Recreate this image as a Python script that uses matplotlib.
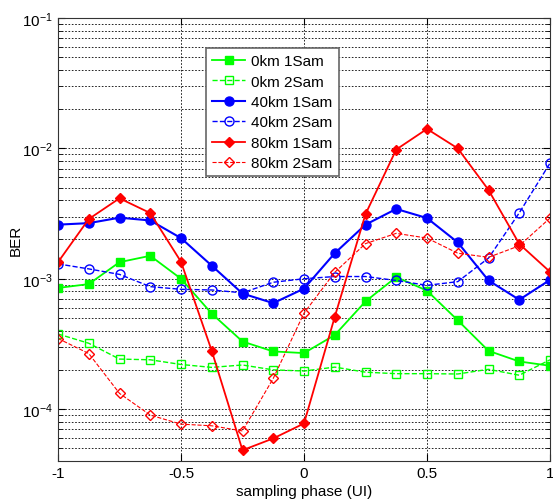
import numpy as np
import matplotlib
matplotlib.use("Agg")
import matplotlib.pyplot as plt
from matplotlib.ticker import LogLocator, NullFormatter

plt.rcParams['font.family'] = ['Liberation Sans', 'DejaVu Sans']

phase = [-1, -0.875, -0.75, -0.625, -0.5, -0.375, -0.25, -0.125, 0,
         0.125, 0.25, 0.375, 0.5, 0.625, 0.75, 0.875, 1]

ber_0km_1 = [8.5e-4, 9.1e-4, 1.34e-3, 1.5e-3, 1.0e-3, 5.4e-4, 3.3e-4, 2.77e-4, 2.69e-4,
             3.7e-4, 6.7e-4, 1.03e-3, 8.1e-4, 4.8e-4, 2.8e-4, 2.32e-4, 2.15e-4]
ber_0km_2 = [3.77e-4, 3.2e-4, 2.42e-4, 2.39e-4, 2.2e-4, 2.09e-4, 2.18e-4, 2.0e-4, 1.96e-4,
             2.1e-4, 1.92e-4, 1.87e-4, 1.87e-4, 1.86e-4, 2.02e-4, 1.82e-4, 2.39e-4]
ber_40km_1 = [2.6e-3, 2.67e-3, 2.94e-3, 2.8e-3, 2.05e-3, 1.26e-3, 7.7e-4, 6.5e-4, 8.4e-4,
              1.57e-3, 2.6e-3, 3.43e-3, 2.92e-3, 1.9e-3, 9.7e-4, 6.9e-4, 9.8e-4]
ber_40km_2 = [1.3e-3, 1.19e-3, 1.08e-3, 8.7e-4, 8.3e-4, 8.2e-4, 7.8e-4, 9.4e-4, 1.0e-3,
              1.04e-3, 1.04e-3, 9.7e-4, 8.9e-4, 9.5e-4, 1.44e-3, 3.2e-3, 7.7e-3]
ber_80km_1 = [1.34e-3, 2.87e-3, 4.14e-3, 3.19e-3, 1.35e-3, 2.8e-4, 4.84e-5, 5.96e-5, 7.76e-5,
              5.1e-4, 3.13e-3, 9.8e-3, 1.41e-2, 1.0e-2, 4.8e-3, 1.85e-3, 1.13e-3]
ber_80km_2 = [3.48e-4, 2.67e-4, 1.32e-4, 9.0e-5, 7.67e-5, 7.45e-5, 6.8e-5, 1.72e-4, 5.45e-4,
              1.12e-3, 1.86e-3, 2.23e-3, 2.05e-3, 1.57e-3, 1.46e-3, 1.79e-3, 2.92e-3]

labels = ["0km 1Sam", "0km 2Sam", "40km 1Sam", "40km 2Sam", "80km 1Sam", "80km 2Sam"]

fig = plt.figure(figsize=(5.53, 5.02), dpi=100)
ax = fig.add_axes([58/553, 40/502, 492/553, 443/502])

G, B, R = (0, 1, 0), (0, 0, 1), (1, 0, 0)
ax.semilogy(phase, ber_0km_1, '-', color=G, marker='s', ms=5.5, mfc=G, mec=G, lw=1.3, label=labels[0])
ax.semilogy(phase, ber_0km_2, '--', color=G, marker='s', ms=5.5, mfc='none', mec=G, lw=1.0, label=labels[1])
ax.semilogy(phase, ber_40km_1, '-', color=B, marker='o', ms=6.5, mfc=B, mec=B, lw=1.5, label=labels[2])
ax.semilogy(phase, ber_40km_2, '--', color=B, marker='o', ms=6.5, mfc='none', mec=B, lw=1.0, label=labels[3])
ax.semilogy(phase, ber_80km_1, '-', color=R, marker='D', ms=5.5, mfc=R, mec=R, lw=1.3, label=labels[4])
ax.semilogy(phase, ber_80km_2, '--', color=R, marker='D', ms=5.5, mfc='none', mec=R, lw=0.8, label=labels[5])

ax.set_xlim(-1, 1)
ax.set_ylim(4e-5, 1e-1)
ax.set_xticks([-1, -0.5, 0, 0.5, 1])
ax.set_xticklabels(['-1', '-0.5', '0', '0.5', '1'])
ax.yaxis.set_major_locator(LogLocator(base=10, numticks=10))
ax.yaxis.set_minor_locator(LogLocator(base=10, subs=np.arange(2, 10), numticks=20))
ax.yaxis.set_minor_formatter(NullFormatter())
ax.grid(True, which='major', axis='both', color='black', linestyle=(0, (2, 2)), linewidth=0.6)
ax.grid(True, which='minor', axis='y', color='black', linestyle=(0, (2, 2)), linewidth=0.6)
ax.tick_params(which='both', direction='in', top=True, right=True, labelsize=11)
ax.tick_params(which='major', length=5)
ax.tick_params(which='minor', length=3)
for s in ax.spines.values():
    s.set_color('#333333')

ax.set_xlabel("sampling phase (UI)", fontsize=11, labelpad=3)
ax.set_ylabel("BER", fontsize=11, labelpad=0)

leg = ax.legend(loc='upper left', bbox_to_anchor=(0.300, 0.932), fancybox=False,
                framealpha=1, edgecolor='#666666', fontsize=11, handlelength=2.2,
                borderpad=0.4, labelspacing=0.42, handletextpad=0.4, borderaxespad=0)
leg.get_frame().set_linewidth(1.2)

fig.savefig("out.png", dpi=100)
